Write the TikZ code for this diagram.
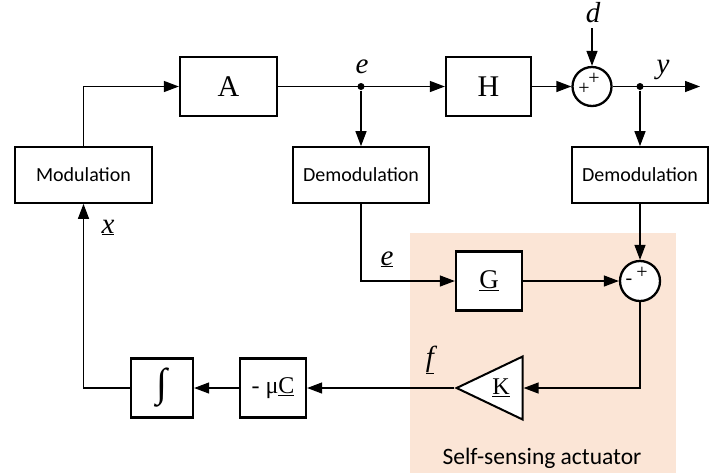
\documentclass[tikz,border=0pt]{standalone}
\usepackage{fontspec}
\setmainfont{Liberation Serif}
\newfontfamily\labelfont{Carlito}
\usetikzlibrary{positioning, arrows.meta, calc, shapes.geometric}

\definecolor{peach}{HTML}{FBE5D6}

\begin{document}
\begin{tikzpicture}[
    >={Triangle[length=15pt,width=11pt]},
    line width=1.3pt,
    block/.style={
        draw, line width=2.3pt, fill=white, inner sep=0pt,
        minimum width=66pt, minimum height=59pt,
        font=\fontsize{30}{30}\selectfont,
    },
    demod/.style={
        draw, line width=1.7pt, fill=white, inner sep=0pt,
        minimum width=137pt, minimum height=56pt,
        font=\labelfont\fontsize{20}{20}\selectfont,
    },
    summer/.style={draw, circle, line width=2.3pt, fill=white, minimum size=39pt, inner sep=0pt},
    gain/.style={
        draw, isosceles triangle, shape border rotate=180,
        isosceles triangle stretches, line width=2pt, fill=white,
        minimum width=63pt, minimum height=66pt, inner sep=0pt,
    },
    sig/.style={->, line width=1.3pt},
    var/.style={font=\fontsize{29}{29}\selectfont\itshape, inner sep=0pt, anchor=base},
    sgn/.style={font=\fontsize{20}{20}\selectfont, inner sep=0pt},
    dot/.style={circle, fill=black, minimum size=7pt, inner sep=0pt},
]

\useasboundingbox (0,0) rectangle (727pt,-475pt);

% column x-coordinates
\def\colMod{83.5}   % Modulation, integral return
\def\colA{228.5}    % A
\def\colE{361}      % e junction / Demodulation
\def\colH{488.5}    % H, G
\def\colSum{592}    % first summer
\def\colY{640}      % y junction / Demodulation / second summer

% row y-coordinates
\def\rowTop{-86.5}
\def\rowMid{-175}
\def\rowG{-281}
\def\rowBot{-388}

% self-sensing actuator region
\node[fill=peach, minimum width=266pt, minimum height=240pt, inner sep=0pt] (ssa) at (543pt,-353pt) {};
\node[font=\labelfont\fontsize{23.5}{23.5}\selectfont, inner sep=0pt] (ssaLab) at (542pt,-458pt) {Self-sensing actuator};

% blocks
\node[demod] (mod)  at (\colMod pt,\rowMid pt) {Modulation};
\node[block, minimum width=97pt] (A) at (\colA pt,\rowTop pt) {A};
\node[demod, minimum width=136pt] (dem1) at (\colE pt,\rowMid pt) {Demodulation};
\node[block, minimum width=85pt] (H) at (\colH pt,\rowTop pt) {H};
\node[summer] (sum1) at (\colSum pt,\rowTop pt) {};
\node[demod, minimum width=136pt] (dem2) at (\colY pt,\rowMid pt) {Demodulation};
\node[block, font=\fontsize{27}{27}\selectfont] (G) at (489pt,\rowG pt) {\underline{G}};
\node[summer, minimum size=40pt] (sum2) at (\colY pt,\rowG pt) {};
\node[gain, anchor=apex] (K) at (454pt,\rowBot pt) {};
\node[font=\fontsize{24}{24}\selectfont, inner sep=0pt] (kLab) at (501pt,\rowBot pt) {\underline{K}};
\node[block, font=\fontsize{24}{24}\selectfont] (C) at (273pt,\rowBot pt) {- μ\underline{C}};
\node[block, minimum width=62pt, font=\fontsize{40}{40}\selectfont\itshape] (int) at (162pt,\rowBot pt) {∫};

% summer signs
\node[sgn] (s1a) at ($(sum1)+(2pt,8pt)$) {+};
\node[sgn] (s1b) at ($(sum1)+(-8pt,-2pt)$) {+};
\node[sgn] (s2a) at ($(sum2)+(2pt,8pt)$) {+};
\node[sgn] (s2b) at ($(sum2)+(-11pt,-1pt)$) {-};

% junctions and free ends
\node[dot] (eJ) at (\colE pt,\rowTop pt) {};
\node[dot] (yJ) at (\colY pt,\rowTop pt) {};
\coordinate (dIn)  at (\colSum pt,-28pt);
\coordinate (yOut) at (700pt,\rowTop pt);

% signal labels
\node[var] (eLab)  at (362pt,-73pt) {e};
\node[var] (dLab)  at (593pt,-22pt) {d};
\node[var] (yLab)  at (663pt,-73pt) {y};
\node[var] (xLab)  at (108pt,-233pt) {\underline{x}};
\node[var] (ehLab) at (387pt,-265pt) {\underline{e}};
\node[var] (fLab)  at (430pt,-366pt) {\underline{f}};

% --- forward path ---
\draw[sig] (mod.north) |- (A.west);
\draw[sig] (A.east) -- (H.west);
\draw[sig] (eJ) -- (dem1.north);
\draw[sig] (H.east) -- (sum1.west);
\draw[sig] (dIn) -- (sum1.north);
\draw[sig] (sum1.east) -- (yOut);
\draw[sig] (yJ) -- (dem2.north);

% --- self-sensing loop ---
\draw[sig] (dem1.south) |- (G.west);
\draw[sig] (G.east) -- (sum2.west);
\draw[sig] (dem2.south) -- (sum2.north);
\draw[sig] (sum2.south) |- (K.lower side);
\draw[sig] (K.apex) -- (C.east);
\draw[sig] (C.west) -- (int.east);
\draw[sig] (int.west) -| (mod.south);

\end{tikzpicture}
\end{document}
